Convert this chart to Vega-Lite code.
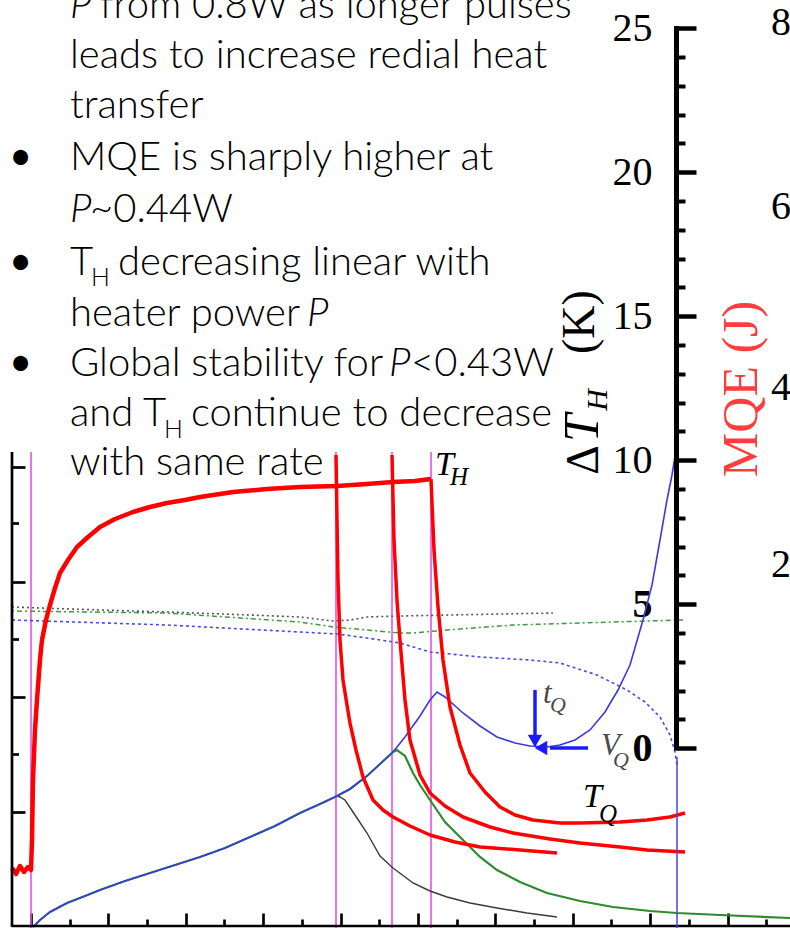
{
 "$schema": "https://vega.github.io/schema/vega-lite/v6.json",
 "width": 790, "height": 928, "autosize": {"type": "none"}, "padding": 0,
 "background": "white",
 "config": {"view": {"stroke": null}, "axis": {"grid": false, "domain": false}},
 "resolve": {"axis": {"x": "independent", "y": "independent"}},
 "layer": [
  {"data": {"values": [{"t": 0}, {"t": 7.8811}, {"t": 9.3282}, {"t": 10.3359}]},
   "mark": {"type": "rule", "color": "#e650e6", "strokeWidth": 1.6},
   "encoding": {"x": {"field": "t", "type": "quantitative", "scale": {"domain": [-0.801, 19.6124], "nice": false, "zero": false}, "axis": null},
     "y": {"datum": 10.288, "type": "quantitative", "scale": {"domain": [-6.2396, 25.9826], "nice": false, "zero": false}, "axis": null},
     "y2": {"datum": -6.24}}},
  {"data": {"values": [{"t": -0.491, "v": 4.906}, {"t": 1.7829, "v": 4.802}, {"t": 3.5142, "v": 4.733}, {"t": 5.6589, "v": 4.628}, {"t": 6.9509, "v": 4.559}, {"t": 7.8036, "v": 4.42}, {"t": 8.2429, "v": 4.455}, {"t": 8.6822, "v": 4.559}, {"t": 9.5349, "v": 4.594}, {"t": 10.8269, "v": 4.628}, {"t": 12.1189, "v": 4.663}, {"t": 13.4884, "v": 4.698}]},
   "mark": {"type": "line", "color": "#555555", "strokeWidth": 1.6, "strokeDash": [2, 3]},
   "encoding": {"x": {"field": "t", "type": "quantitative", "scale": {"domain": [-0.801, 19.6124], "nice": false, "zero": false}, "axis": null},
     "y": {"field": "v", "type": "quantitative", "scale": {"domain": [-6.2396, 25.9826], "nice": false, "zero": false},
       "axis": {"orient": "right", "offset": -778, "values": [7.813, 3.795, -0.198, -4.226], "domain": false, "grid": false, "labels": false, "tickSize": 6.5, "tickWidth": 2.7, "tickColor": "black", "title": null}}}},
  {"data": {"values": [{"t": -0.491, "v": 4.767}, {"t": 3.5142, "v": 4.698}, {"t": 6.9509, "v": 4.385}, {"t": 7.8036, "v": 4.212}, {"t": 8.6822, "v": 4.108}, {"t": 9.5349, "v": 4.003}, {"t": 9.8708, "v": 4.003}, {"t": 10.7494, "v": 4.108}, {"t": 12.4548, "v": 4.281}, {"t": 15.0388, "v": 4.385}, {"t": 16.8475, "v": 4.455}]},
   "mark": {"type": "line", "color": "#3c9c3c", "strokeWidth": 1.5, "strokeDash": [2, 3, 5, 3]},
   "encoding": {"x": {"field": "t", "type": "quantitative", "scale": {"domain": [-0.801, 19.6124], "nice": false, "zero": false},
       "axis": {"orient": "top", "offset": -926, "values": [0, 2, 4, 6, 8, 10, 12, 14, 16, 18], "domain": false, "grid": false, "labels": false, "tickSize": 13, "tickWidth": 2.7, "tickColor": "black", "title": null}},
     "y": {"field": "v", "type": "quantitative", "scale": {"domain": [-6.2396, 25.9826], "nice": false, "zero": false}, "axis": null}}},
  {"data": {"values": [{"t": -0.491, "v": 4.455}, {"t": 3.5142, "v": 4.281}, {"t": 6.9509, "v": 4.038}, {"t": 7.907, "v": 3.969}, {"t": 8.6822, "v": 3.83}, {"t": 9.5349, "v": 3.656}, {"t": 10.3101, "v": 3.344}, {"t": 11.6021, "v": 3.17}, {"t": 12.8941, "v": 3.066}, {"t": 13.6693, "v": 2.962}, {"t": 14.6253, "v": 2.545}, {"t": 15.4005, "v": 2.024}, {"t": 15.8656, "v": 1.608}, {"t": 16.2532, "v": 1.087}, {"t": 16.5116, "v": 0.462}, {"t": 16.6408, "v": -0.128}, {"t": 16.6925, "v": -0.58}]},
   "mark": {"type": "line", "color": "#4a4ae6", "strokeWidth": 1.6, "strokeDash": [3, 3]},
   "encoding": {"x": {"field": "t", "type": "quantitative", "scale": {"domain": [-0.801, 19.6124], "nice": false, "zero": false},
       "axis": {"orient": "top", "offset": -926, "values": [1, 3, 5, 7, 9, 11, 13, 15, 17, 19], "domain": false, "grid": false, "labels": false, "tickSize": 7, "tickWidth": 2.7, "tickColor": "black", "title": null}},
     "y": {"field": "v", "type": "quantitative", "scale": {"domain": [-6.2396, 25.9826], "nice": false, "zero": false}, "axis": null}}},
  {"data": {"values": [{"t": 7.907, "v": -1.656}, {"t": 7.9845, "v": -1.691}, {"t": 8.1137, "v": -1.795}, {"t": 8.3721, "v": -2.316}, {"t": 8.6822, "v": -2.941}, {"t": 9.0181, "v": -3.74}, {"t": 9.354, "v": -4.156}, {"t": 9.8708, "v": -4.677}, {"t": 10.3101, "v": -4.955}, {"t": 10.7494, "v": -5.163}, {"t": 11.3437, "v": -5.372}, {"t": 12.0413, "v": -5.545}, {"t": 12.8165, "v": -5.719}, {"t": 13.5917, "v": -5.858}]},
   "mark": {"type": "line", "color": "#3a3a3a", "strokeWidth": 1.4},
   "encoding": {"x": {"field": "t", "type": "quantitative", "scale": {"domain": [-0.801, 19.6124], "nice": false, "zero": false}, "axis": null},
     "y": {"field": "v", "type": "quantitative", "scale": {"domain": [-6.2396, 25.9826], "nice": false, "zero": false},
       "axis": {"orient": "right", "offset": -778, "values": [9.778, 5.785, 1.792, -2.201], "domain": false, "grid": false, "labels": false, "tickSize": 13, "tickWidth": 2.7, "tickColor": "black", "title": null}}}},
  {"data": {"values": [{"t": 0.0517, "v": -6.205}, {"t": 0.2326, "v": -5.962}, {"t": 0.491, "v": -5.684}, {"t": 0.9302, "v": -5.372}, {"t": 1.3953, "v": -5.128}, {"t": 1.7829, "v": -4.92}, {"t": 2.4289, "v": -4.608}, {"t": 3.0749, "v": -4.33}, {"t": 3.7209, "v": -4.052}, {"t": 4.3669, "v": -3.774}, {"t": 5.0129, "v": -3.462}, {"t": 5.6589, "v": -3.08}, {"t": 6.3049, "v": -2.698}, {"t": 6.9509, "v": -2.247}, {"t": 7.4677, "v": -1.934}, {"t": 7.907, "v": -1.656}, {"t": 8.2429, "v": -1.413}, {"t": 8.6822, "v": -0.962}, {"t": 9.0181, "v": -0.545}, {"t": 9.354, "v": -0.128}, {"t": 9.4574, "v": -0.059}, {"t": 9.6641, "v": -0.267}, {"t": 9.8708, "v": -0.858}, {"t": 10.0517, "v": -1.274}, {"t": 10.3101, "v": -1.795}, {"t": 10.6977, "v": -2.559}, {"t": 11.1628, "v": -3.184}, {"t": 11.6021, "v": -3.774}, {"t": 12.0413, "v": -4.226}, {"t": 12.6357, "v": -4.642}, {"t": 13.3333, "v": -5.024}, {"t": 14.186, "v": -5.302}, {"t": 15.0388, "v": -5.51}, {"t": 15.9948, "v": -5.649}, {"t": 16.6925, "v": -5.719}, {"t": 17.8036, "v": -5.788}, {"t": 19.6124, "v": -5.892}]},
   "mark": {"type": "line", "color": "#2e8b2e", "strokeWidth": 2.2},
   "encoding": {"x": {"field": "t", "type": "quantitative", "scale": {"domain": [-0.801, 19.6124], "nice": false, "zero": false}, "axis": null},
     "y": {"field": "v", "type": "quantitative", "scale": {"domain": [-6.2396, 25.9826], "nice": false, "zero": false},
       "axis": {"orient": "right", "offset": -114, "values": [1, 2, 3, 4, 6, 7, 8, 9, 11, 12, 13, 14, 16, 17, 18, 19, 21, 22, 23, 24], "domain": false, "grid": false, "labels": false, "tickSize": 9, "tickWidth": 4, "tickColor": "black", "title": null}}}},
  {"data": {"values": [{"t": 0.0517, "v": -6.205}, {"t": 0.2326, "v": -5.962}, {"t": 0.491, "v": -5.684}, {"t": 0.9302, "v": -5.372}, {"t": 1.3953, "v": -5.128}, {"t": 1.7829, "v": -4.92}, {"t": 2.4289, "v": -4.608}, {"t": 3.0749, "v": -4.33}, {"t": 3.7209, "v": -4.052}, {"t": 4.3669, "v": -3.774}, {"t": 5.0129, "v": -3.462}, {"t": 5.6589, "v": -3.08}, {"t": 6.3049, "v": -2.698}, {"t": 6.9509, "v": -2.247}, {"t": 7.4677, "v": -1.934}, {"t": 7.907, "v": -1.656}, {"t": 8.2429, "v": -1.413}, {"t": 8.6822, "v": -0.962}, {"t": 9.0181, "v": -0.545}, {"t": 9.354, "v": -0.128}, {"t": 9.6641, "v": 0.392}, {"t": 10.0517, "v": 1.122}, {"t": 10.3101, "v": 1.677}, {"t": 10.491, "v": 1.955}, {"t": 10.6977, "v": 1.781}, {"t": 11.1628, "v": 1.226}, {"t": 11.6021, "v": 0.774}, {"t": 12.0413, "v": 0.392}, {"t": 12.5065, "v": 0.184}, {"t": 12.8941, "v": 0.08}, {"t": 13.3333, "v": 0.045}, {"t": 13.6693, "v": 0.115}, {"t": 14.0568, "v": 0.288}, {"t": 14.4444, "v": 0.635}, {"t": 14.832, "v": 1.26}, {"t": 15.168, "v": 2.024}, {"t": 15.478, "v": 2.892}, {"t": 15.814, "v": 4.455}, {"t": 16.0465, "v": 5.67}, {"t": 16.2532, "v": 7.233}, {"t": 16.4341, "v": 8.622}, {"t": 16.5633, "v": 9.49}, {"t": 16.6667, "v": 10.358}]},
   "mark": {"type": "line", "color": "#3b3bdc", "strokeWidth": 1.6},
   "encoding": {"x": {"field": "t", "type": "quantitative", "scale": {"domain": [-0.801, 19.6124], "nice": false, "zero": false}, "axis": null},
     "y": {"field": "v", "type": "quantitative", "scale": {"domain": [-6.2396, 25.9826], "nice": false, "zero": false},
       "axis": {"orient": "right", "offset": -114, "values": [0, 5, 10, 15, 20, 25], "domain": false, "grid": false, "tickSize": 20, "tickWidth": 4.5, "tickColor": "black",
         "labelFont": "Liberation Serif", "labelFontSize": 40, "labelColor": "black", "labelAlign": "right", "labelBaseline": "middle", "labelPadding": -44, "labelOverlap": false, "labelBound": false,
         "labelFontWeight": {"condition": {"test": "datum.value <= 5", "value": "bold"}, "value": "normal"}, "title": null}}}},
  {"data": {"values": [{"t": -0.491, "v": -4.156}, {"t": -0.3876, "v": -4.365}, {"t": -0.2842, "v": -4.087}, {"t": -0.1809, "v": -4.295}, {"t": -0.0775, "v": -4.122}, {"t": 0, "v": -4.226}, {"t": 0.0258, "v": -3.184}, {"t": 0.0517, "v": -1.101}, {"t": 0.1034, "v": 0.635}, {"t": 0.155, "v": 1.677}, {"t": 0.2326, "v": 3.066}, {"t": 0.2842, "v": 3.76}, {"t": 0.3876, "v": 4.455}, {"t": 0.491, "v": 4.976}, {"t": 0.6202, "v": 5.566}, {"t": 0.7494, "v": 6.087}, {"t": 0.9561, "v": 6.538}, {"t": 1.1886, "v": 6.99}, {"t": 1.4729, "v": 7.337}, {"t": 1.7829, "v": 7.684}, {"t": 2.1705, "v": 7.962}, {"t": 2.6357, "v": 8.205}, {"t": 3.0749, "v": 8.378}, {"t": 3.5142, "v": 8.517}, {"t": 3.9793, "v": 8.622}, {"t": 4.3669, "v": 8.726}, {"t": 5.2196, "v": 8.899}, {"t": 6.0982, "v": 9.003}, {"t": 6.9509, "v": 9.073}, {"t": 7.907, "v": 9.108}, {"t": 8.6822, "v": 9.177}, {"t": 9.354, "v": 9.247}, {"t": 9.9225, "v": 9.281}, {"t": 10.3359, "v": 9.351}]},
   "mark": {"type": "line", "color": "#ff0000", "strokeWidth": 4.5, "strokeJoin": "round"},
   "encoding": {"x": {"field": "t", "type": "quantitative", "scale": {"domain": [-0.801, 19.6124], "nice": false, "zero": false}, "axis": null},
     "y": {"field": "v", "type": "quantitative", "scale": {"domain": [-6.2396, 25.9826], "nice": false, "zero": false}, "axis": null}}},
  {"data": {"values": [
     {"c": "R1", "t": 7.8811, "v": 10.184}, {"c": "R1", "t": 7.907, "v": 7.927}, {"c": "R1", "t": 7.9328, "v": 5.844}, {"c": "R1", "t": 7.9845, "v": 3.76}, {"c": "R1", "t": 8.062, "v": 2.372}, {"c": "R1", "t": 8.1654, "v": 1.503}, {"c": "R1", "t": 8.2429, "v": 0.878}, {"c": "R1", "t": 8.3979, "v": -0.059}, {"c": "R1", "t": 8.5788, "v": -0.997}, {"c": "R1", "t": 8.8372, "v": -1.795}, {"c": "R1", "t": 9.0956, "v": -2.142}, {"c": "R1", "t": 9.354, "v": -2.385}, {"c": "R1", "t": 9.7933, "v": -2.698}, {"c": "R1", "t": 10.3101, "v": -3.01}, {"c": "R1", "t": 10.9561, "v": -3.254}, {"c": "R1", "t": 11.6021, "v": -3.427}, {"c": "R1", "t": 12.6357, "v": -3.531}, {"c": "R1", "t": 13.5917, "v": -3.635},
     {"c": "R2", "t": 9.3282, "v": 10.184}, {"c": "R2", "t": 9.3798, "v": 7.233}, {"c": "R2", "t": 9.4574, "v": 5.149}, {"c": "R2", "t": 9.5349, "v": 3.76}, {"c": "R2", "t": 9.6641, "v": 1.677}, {"c": "R2", "t": 9.7933, "v": 0.288}, {"c": "R2", "t": 10.0517, "v": -0.927}, {"c": "R2", "t": 10.3101, "v": -1.552}, {"c": "R2", "t": 10.6977, "v": -2.003}, {"c": "R2", "t": 11.1628, "v": -2.385}, {"c": "R2", "t": 11.8605, "v": -2.733}, {"c": "R2", "t": 12.4548, "v": -2.941}, {"c": "R2", "t": 13.4109, "v": -3.149}, {"c": "R2", "t": 14.186, "v": -3.288}, {"c": "R2", "t": 15.2196, "v": -3.427}, {"c": "R2", "t": 15.9173, "v": -3.531}, {"c": "R2", "t": 16.8992, "v": -3.601},
     {"c": "R3", "t": 10.3359, "v": 9.351}, {"c": "R3", "t": 10.4134, "v": 6.899}, {"c": "R3", "t": 10.5168, "v": 4.92}, {"c": "R3", "t": 10.646, "v": 3.066}, {"c": "R3", "t": 10.8269, "v": 1.434}, {"c": "R3", "t": 11.0853, "v": 0.115}, {"c": "R3", "t": 11.3437, "v": -0.858}, {"c": "R3", "t": 11.7313, "v": -1.517}, {"c": "R3", "t": 12.1189, "v": -2.038}, {"c": "R3", "t": 12.5065, "v": -2.316}, {"c": "R3", "t": 12.9716, "v": -2.49}, {"c": "R3", "t": 13.6693, "v": -2.594}, {"c": "R3", "t": 14.186, "v": -2.594}, {"c": "R3", "t": 15.2196, "v": -2.559}, {"c": "R3", "t": 15.9173, "v": -2.49}, {"c": "R3", "t": 16.5116, "v": -2.385}, {"c": "R3", "t": 16.8992, "v": -2.247}]},
   "mark": {"type": "line", "color": "#ff0000", "strokeWidth": 3.5, "strokeJoin": "round"},
   "encoding": {"x": {"field": "t", "type": "quantitative", "scale": {"domain": [-0.801, 19.6124], "nice": false, "zero": false}, "axis": null},
     "y": {"field": "v", "type": "quantitative", "scale": {"domain": [-6.2396, 25.9826], "nice": false, "zero": false}, "axis": null},
     "detail": {"field": "c"}}},
  {"data": {"values": [{"t": 16.6796, "v": -0.08, "v2": 25.08}]},
   "mark": {"type": "rule", "color": "black", "strokeWidth": 5},
   "encoding": {"x": {"field": "t", "type": "quantitative", "scale": {"domain": [-0.801, 19.6124], "nice": false, "zero": false}, "axis": null},
     "y": {"field": "v", "type": "quantitative", "scale": {"domain": [-6.2396, 25.9826], "nice": false, "zero": false}, "axis": null},
     "y2": {"field": "v2"}}},
  {"data": {"values": [{"t": -0.491, "t2": -0.491, "v": 10.288, "v2": -6.205}, {"t": -0.491, "t2": 19.6124, "v": -6.17, "v2": -6.17}]},
   "mark": {"type": "rule", "color": "black", "strokeWidth": 2.7},
   "encoding": {"x": {"field": "t", "type": "quantitative", "scale": {"domain": [-0.801, 19.6124], "nice": false, "zero": false}, "axis": null},
     "x2": {"field": "t2"},
     "y": {"field": "v", "type": "quantitative", "scale": {"domain": [-6.2396, 25.9826], "nice": false, "zero": false}, "axis": null},
     "y2": {"field": "v2"}}},
  {"data": {"values": [{"t": 16.6925, "v": -0.3, "v2": -6.24}]},
   "mark": {"type": "rule", "color": "#4444ee", "strokeWidth": 1.5},
   "encoding": {"x": {"field": "t", "type": "quantitative", "scale": {"domain": [-0.801, 19.6124], "nice": false, "zero": false}, "axis": null},
     "y": {"field": "v", "type": "quantitative", "scale": {"domain": [-6.2396, 25.9826], "nice": false, "zero": false}, "axis": null},
     "y2": {"field": "v2"}}},
  {"data": {"values": [{"t": 13.0233, "t2": 13.0233, "v": 2.024, "v2": 0.392}, {"t": 14.3928, "t2": 13.4109, "v": 0.0104, "v2": 0.0104}]},
   "mark": {"type": "rule", "color": "#1a1aff", "strokeWidth": 3.5},
   "encoding": {"x": {"field": "t", "type": "quantitative", "scale": {"domain": [-0.801, 19.6124], "nice": false, "zero": false}, "axis": null},
     "x2": {"field": "t2"},
     "y": {"field": "v", "type": "quantitative", "scale": {"domain": [-6.2396, 25.9826], "nice": false, "zero": false}, "axis": null},
     "y2": {"field": "v2"}}},
  {"data": {"values": [{"t": 13.0233, "v": 0.253}]},
   "mark": {"type": "point", "shape": "triangle-down", "filled": true, "color": "#1a1aff", "size": 210, "opacity": 1},
   "encoding": {"x": {"field": "t", "type": "quantitative", "scale": {"domain": [-0.801, 19.6124], "nice": false, "zero": false}, "axis": null},
     "y": {"field": "v", "type": "quantitative", "scale": {"domain": [-6.2396, 25.9826], "nice": false, "zero": false}, "axis": null}}},
  {"data": {"values": [{"t": 13.1783, "v": 0.0104}]},
   "mark": {"type": "point", "shape": "triangle-left", "filled": true, "color": "#1a1aff", "size": 210, "opacity": 1},
   "encoding": {"x": {"field": "t", "type": "quantitative", "scale": {"domain": [-0.801, 19.6124], "nice": false, "zero": false}, "axis": null},
     "y": {"field": "v", "type": "quantitative", "scale": {"domain": [-6.2396, 25.9826], "nice": false, "zero": false}, "axis": null}}},
  {"data": {"values": [
     {"t": 1.7829, "v": 25.358, "text": "from 0.8W as longer pulses"},
     {"t": 1.0078, "v": 23.622, "text": "leads to increase redial heat"},
     {"t": 1.0078, "v": 21.885, "text": "transfer"},
     {"t": 1.0078, "v": 20.08, "text": "MQE is sharply higher at"},
     {"t": 1.5245, "v": 18.274, "text": "~0.44W"},
     {"t": 1.0078, "v": 16.434, "text": "T"},
     {"t": 2.2481, "v": 16.434, "text": "decreasing linear with"},
     {"t": 1.0078, "v": 14.663, "text": "heater power"},
     {"t": 1.0078, "v": 12.927, "text": "Global stability for"},
     {"t": 9.8191, "v": 12.927, "text": "<0.43W"},
     {"t": 1.0078, "v": 11.191, "text": "and T"},
     {"t": 4.1344, "v": 11.191, "text": "continue to decrease"},
     {"t": 1.0078, "v": 9.49, "text": "with same rate"}]},
   "mark": {"type": "text", "font": "Lato", "fontSize": 40, "fontWeight": 300, "color": "black", "align": "left", "baseline": "alphabetic"},
   "encoding": {"x": {"field": "t", "type": "quantitative", "scale": {"domain": [-0.801, 19.6124], "nice": false, "zero": false}, "axis": null},
     "y": {"field": "v", "type": "quantitative", "scale": {"domain": [-6.2396, 25.9826], "nice": false, "zero": false}, "axis": null},
     "text": {"field": "text"}}},
  {"data": {"values": [{"t": 1.0078, "v": 25.358, "text": "P"}, {"t": 1.0078, "v": 18.274, "text": "P"}, {"t": 7.1318, "v": 14.663, "text": "P"}, {"t": 9.2506, "v": 12.927, "text": "P"}]},
   "mark": {"type": "text", "font": "Lato", "fontSize": 40, "fontWeight": 300, "fontStyle": "italic", "color": "black", "align": "left", "baseline": "alphabetic"},
   "encoding": {"x": {"field": "t", "type": "quantitative", "scale": {"domain": [-0.801, 19.6124], "nice": false, "zero": false}, "axis": null},
     "y": {"field": "v", "type": "quantitative", "scale": {"domain": [-6.2396, 25.9826], "nice": false, "zero": false}, "axis": null},
     "text": {"field": "text"}}},
  {"data": {"values": [{"t": 1.5504, "v": 16.052, "text": "H"}, {"t": 3.4367, "v": 10.774, "text": "H"}]},
   "mark": {"type": "text", "font": "Lato", "fontSize": 25, "fontWeight": 300, "color": "black", "align": "left", "baseline": "alphabetic"},
   "encoding": {"x": {"field": "t", "type": "quantitative", "scale": {"domain": [-0.801, 19.6124], "nice": false, "zero": false}, "axis": null},
     "y": {"field": "v", "type": "quantitative", "scale": {"domain": [-6.2396, 25.9826], "nice": false, "zero": false}, "axis": null},
     "text": {"field": "text"}}},
  {"data": {"values": [{"t": -0.5685, "v": 20.08, "text": "•"}, {"t": -0.5685, "v": 16.434, "text": "•"}, {"t": -0.5685, "v": 12.927, "text": "•"}]},
   "mark": {"type": "text", "font": "Lato", "fontSize": 40, "fontWeight": "normal", "color": "black", "align": "left", "baseline": "alphabetic"},
   "encoding": {"x": {"field": "t", "type": "quantitative", "scale": {"domain": [-0.801, 19.6124], "nice": false, "zero": false}, "axis": null},
     "y": {"field": "v", "type": "quantitative", "scale": {"domain": [-6.2396, 25.9826], "nice": false, "zero": false}, "axis": null},
     "text": {"field": "text"}}},
  {"data": {"values": [{"t": 10.4393, "v": 9.49, "text": "T"}, {"t": 14.2636, "v": -2.038, "text": "T"}]},
   "mark": {"type": "text", "font": "Liberation Serif", "fontSize": 34, "fontStyle": "italic", "color": "black", "align": "left", "baseline": "alphabetic"},
   "encoding": {"x": {"field": "t", "type": "quantitative", "scale": {"domain": [-0.801, 19.6124], "nice": false, "zero": false}, "axis": null},
     "y": {"field": "v", "type": "quantitative", "scale": {"domain": [-6.2396, 25.9826], "nice": false, "zero": false}, "axis": null},
     "text": {"field": "text"}}},
  {"data": {"values": [{"t": 10.8269, "v": 9.142, "text": "H"}, {"t": 14.677, "v": -2.559, "text": "Q"}]},
   "mark": {"type": "text", "font": "Liberation Serif", "fontSize": 25, "fontStyle": "italic", "color": "black", "align": "left", "baseline": "alphabetic"},
   "encoding": {"x": {"field": "t", "type": "quantitative", "scale": {"domain": [-0.801, 19.6124], "nice": false, "zero": false}, "axis": null},
     "y": {"field": "v", "type": "quantitative", "scale": {"domain": [-6.2396, 25.9826], "nice": false, "zero": false}, "axis": null},
     "text": {"field": "text"}}},
  {"data": {"values": [{"t": 13.23, "v": 1.573, "text": "t"}, {"t": 14.7287, "v": -0.233, "text": "V"}]},
   "mark": {"type": "text", "font": "Liberation Serif", "fontSize": 31, "fontStyle": "italic", "color": "#4a4a4a", "align": "left", "baseline": "alphabetic"},
   "encoding": {"x": {"field": "t", "type": "quantitative", "scale": {"domain": [-0.801, 19.6124], "nice": false, "zero": false}, "axis": null},
     "y": {"field": "v", "type": "quantitative", "scale": {"domain": [-6.2396, 25.9826], "nice": false, "zero": false}, "axis": null},
     "text": {"field": "text"}}},
  {"data": {"values": [{"t": 13.4109, "v": 1.26, "text": "Q"}, {"t": 15.0388, "v": -0.649, "text": "Q"}]},
   "mark": {"type": "text", "font": "Liberation Serif", "fontSize": 22, "fontStyle": "italic", "color": "#4a4a4a", "align": "left", "baseline": "alphabetic"},
   "encoding": {"x": {"field": "t", "type": "quantitative", "scale": {"domain": [-0.801, 19.6124], "nice": false, "zero": false}, "axis": null},
     "y": {"field": "v", "type": "quantitative", "scale": {"domain": [-6.2396, 25.9826], "nice": false, "zero": false}, "axis": null},
     "text": {"field": "text"}}},
  {"data": {"values": [{"t": 14.6512, "v": 10.01, "text": "Δ"}, {"t": 14.5478, "v": 14.8, "text": "(K)"}]},
   "mark": {"type": "text", "font": "Liberation Serif", "fontSize": 46, "angle": 270, "color": "black", "align": "center", "baseline": "alphabetic"},
   "encoding": {"x": {"field": "t", "type": "quantitative", "scale": {"domain": [-0.801, 19.6124], "nice": false, "zero": false}, "axis": null},
     "y": {"field": "v", "type": "quantitative", "scale": {"domain": [-6.2396, 25.9826], "nice": false, "zero": false}, "axis": null},
     "text": {"field": "text"}}},
  {"data": {"values": [{"t": 14.6512, "v": 11.122, "text": "T"}]},
   "mark": {"type": "text", "font": "Liberation Serif", "fontSize": 50, "fontStyle": "italic", "angle": 270, "color": "black", "align": "center", "baseline": "alphabetic"},
   "encoding": {"x": {"field": "t", "type": "quantitative", "scale": {"domain": [-0.801, 19.6124], "nice": false, "zero": false}, "axis": null},
     "y": {"field": "v", "type": "quantitative", "scale": {"domain": [-6.2396, 25.9826], "nice": false, "zero": false}, "axis": null},
     "text": {"field": "text"}}},
  {"data": {"values": [{"t": 14.8837, "v": 12.094, "text": "H"}]},
   "mark": {"type": "text", "font": "Liberation Serif", "fontSize": 30, "fontStyle": "italic", "angle": 270, "color": "black", "align": "center", "baseline": "alphabetic"},
   "encoding": {"x": {"field": "t", "type": "quantitative", "scale": {"domain": [-0.801, 19.6124], "nice": false, "zero": false}, "axis": null},
     "y": {"field": "v", "type": "quantitative", "scale": {"domain": [-6.2396, 25.9826], "nice": false, "zero": false}, "axis": null},
     "text": {"field": "text"}}},
  {"data": {"values": [{"t": 18.7597, "v": 12.476, "text": "MQE (J)"}]},
   "mark": {"type": "text", "font": "Liberation Serif", "fontSize": 50, "angle": 270, "color": "#ff3d3d", "align": "center", "baseline": "alphabetic"},
   "encoding": {"x": {"field": "t", "type": "quantitative", "scale": {"domain": [-0.801, 19.6124], "nice": false, "zero": false}, "axis": null},
     "y": {"field": "v", "type": "quantitative", "scale": {"domain": [-6.2396, 25.9826], "nice": false, "zero": false}, "axis": null},
     "text": {"field": "text"}}},
  {"data": {"values": [{"t": 19.1214, "v": 25.184, "text": "8"}, {"t": 19.1214, "v": 18.795, "text": "6"}, {"t": 19.1214, "v": 12.51, "text": "4"}, {"t": 19.1214, "v": 6.365, "text": "2"}]},
   "mark": {"type": "text", "font": "Liberation Serif", "fontSize": 40, "color": "black", "align": "left", "baseline": "middle"},
   "encoding": {"x": {"field": "t", "type": "quantitative", "scale": {"domain": [-0.801, 19.6124], "nice": false, "zero": false}, "axis": null},
     "y": {"field": "v", "type": "quantitative", "scale": {"domain": [-6.2396, 25.9826], "nice": false, "zero": false}, "axis": null},
     "text": {"field": "text"}}}
 ]
}
